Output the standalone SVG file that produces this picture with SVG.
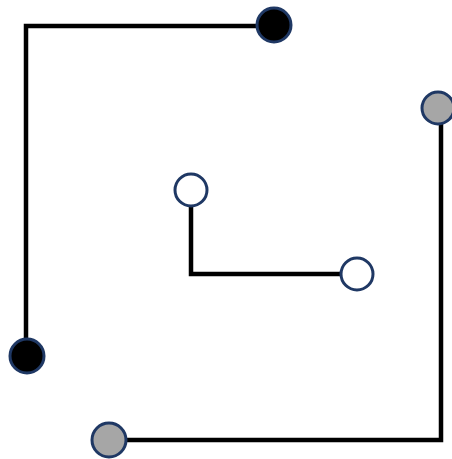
<svg xmlns="http://www.w3.org/2000/svg" width="452" height="459" viewBox="0 0 452 459">
<style>
.c{fill:none;stroke:#000;stroke-width:4.5}
.n{stroke:#1f3864;stroke-width:3}
.b{fill:#000}.g{fill:#a6a6a6}.w{fill:#fff}
</style>
<rect width="452" height="459" fill="#fff"/>
<g id="connectors">
<path class="c" d="M273 26 H26 V356"/>
<path class="c" d="M441 108 V440 H109"/>
<path class="c" d="M191 190 V274 H357"/>
</g>
<g id="n1"><circle class="n b" cx="274" cy="25" r="17"/></g>
<g id="n2"><circle class="n b" cx="27" cy="356" r="17"/></g>
<g id="n3"><circle class="n g" cx="438" cy="108" r="16"/></g>
<g id="n4"><circle class="n g" cx="109" cy="440" r="17"/></g>
<g id="n5"><circle class="n w" cx="191" cy="190" r="16"/></g>
<g id="n6"><circle class="n w" cx="357" cy="274" r="16"/></g>
</svg>
